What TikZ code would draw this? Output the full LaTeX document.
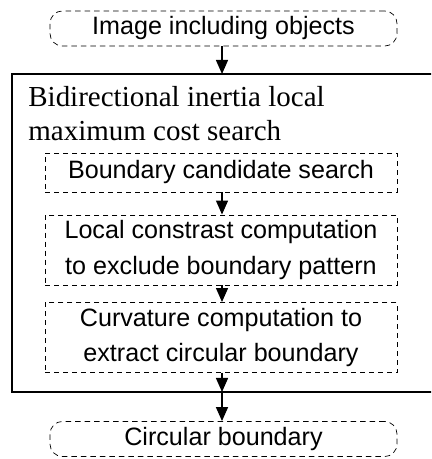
\documentclass[tikz,border=0pt]{standalone}
\usepackage{fontspec}
\setmainfont{Liberation Serif}
\setsansfont{Liberation Sans}
\usetikzlibrary{positioning, arrows.meta}

\begin{document}
\begin{tikzpicture}[
		>={Triangle[length=2.8mm, width=2.4mm]},
		term/.style={draw, dash pattern=on 1.1mm off 0.8mm, rounded corners=2.5mm, minimum width=69.4mm, minimum height=6mm, font=\sffamily\fontsize{14.3}{17}\selectfont},
		stage/.style={draw, dash pattern=on 1mm off 0.8mm, minimum width=70.4mm, align=center, font=\sffamily\fontsize{14.3}{20}\selectfont},
		flow/.style={->, line width=0.8pt},
	]
	\useasboundingbox (0, 0) rectangle (8.62, 9.18);
	\clip (0, 0) rectangle (8.62, 9.18);

	\node[term] (image) at (4.47, 8.61) {Image including objects};

	% outer block
	\draw[line width=0.8pt] (9, 7.70) -- (0.24, 7.70) -- (0.24, 1.34) -- (9, 1.34);
	\coordinate (blocktop) at (4.44, 7.70);
	\coordinate (blockbot) at (4.44, 1.34);
	\node[anchor=base west, align=left, inner sep=0pt, font=\fontsize{16.5}{19.4}\selectfont] (title) at (0.56, 6.36) {Bidirectional inertia local\\maximum cost search};

	\node[stage, minimum height=7.8mm] (candidate) at (4.42, 5.73) {Boundary candidate search};
	\node[stage, minimum height=12.8mm] (contrast) at (4.42, 4.18) {Local constrast computation\\to exclude boundary pattern};
	\node[stage, minimum height=9mm] (curvature) at (4.42, 2.43) {Curvature computation to\\extract circular boundary};

	\node[term, minimum height=5.6mm] (circle) at (4.47, 0.40) {Circular boundary};

	\draw [flow] (image.south -| blocktop) -- (blocktop);
	\draw [flow] (candidate.south -| blocktop) -- (contrast.north -| blocktop);
	\draw [flow] (contrast.south -| blocktop) -- (curvature.north -| blocktop);
	\draw [flow] (curvature.south -| blocktop) -- (blockbot);
	\draw [flow] (blockbot) -- (circle.north -| blockbot);
\end{tikzpicture}
\end{document}
